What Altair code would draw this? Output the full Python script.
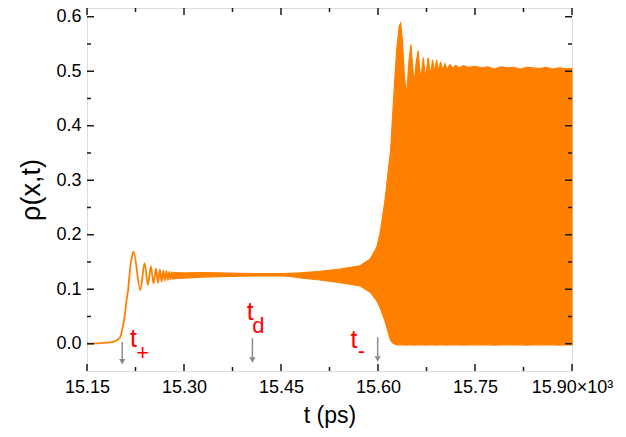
import altair as alt
import pandas as pd

ORANGE = "#FF8000"

# early, resolved part of the signal (t in 10^3 ps, rho)
line_t = [15.150, 15.170, 15.180, 15.188, 15.194, 15.198, 15.2014, 15.204, 15.2076,
          15.2118, 15.2135, 15.2169, 15.2195, 15.222, 15.2325, 15.239, 15.2442, 15.2488,
          15.2529, 15.2566, 15.2597, 15.2627, 15.2655, 15.2681, 15.2706, 15.2729, 15.2751,
          15.2771, 15.2791, 15.281, 15.2828]
line_v = [0.000, 0.001, 0.002, 0.003, 0.005, 0.008, 0.012, 0.024, 0.045,
          0.085, 0.098, 0.140, 0.160, 0.169, 0.098, 0.148, 0.108, 0.142,
          0.111, 0.138, 0.112, 0.136, 0.114, 0.134, 0.116, 0.133, 0.117,
          0.132, 0.118, 0.131, 0.119]

# dense oscillation: lower / upper envelope
band_t = [15.2828, 15.290, 15.302, 15.325, 15.356, 15.387, 15.418, 15.4534, 15.470, 15.4794,
          15.5103, 15.5412, 15.5721, 15.5876, 15.598, 15.603, 15.6107, 15.6158, 15.6195, 15.6235,
          15.6262, 15.6288, 15.6328, 15.635, 15.6375, 15.641, 15.644, 15.648, 15.651, 15.6535,
          15.656, 15.659, 15.662, 15.666, 15.670, 15.6736, 15.6776, 15.681, 15.6844, 15.6875,
          15.6906, 15.6937, 15.6967, 15.6998, 15.7033, 15.707, 15.711, 15.716, 15.720, 15.726,
          15.732, 15.740, 15.750, 15.760, 15.770, 15.780, 15.790, 15.800, 15.810, 15.820,
          15.830, 15.840, 15.850, 15.860, 15.870, 15.880, 15.890, 15.900]
band_lo = [0.1190, 0.1200, 0.1205, 0.1220, 0.1230, 0.1240, 0.1245, 0.1245, 0.1225, 0.1210,
           0.1170, 0.1120, 0.1060, 0.0950, 0.0790, 0.0670, 0.0420, 0.0210, 0.0060, 0.0010,
           -0.0010, -0.0020, -0.0020, -0.0020, -0.0015, -0.0020, -0.0025, -0.0020, -0.0015, -0.0020,
           -0.0025, -0.0020, -0.0020, -0.0015, -0.0020, -0.0025, -0.0020, -0.0020, -0.0015, -0.0020,
           -0.0025, -0.0020, -0.0020, -0.0015, -0.0020, -0.0025, -0.0020, -0.0020, -0.0015, -0.0020,
           -0.0025, -0.0020, -0.0020, -0.0015, -0.0020, -0.0025, -0.0020, -0.0020, -0.0015, -0.0020,
           -0.0025, -0.0020, -0.0020, -0.0015, -0.0020, -0.0025, -0.0020, -0.0020]
band_hi = [0.1310, 0.1305, 0.1300, 0.1305, 0.1300, 0.1290, 0.1285, 0.1285, 0.1295, 0.1300,
           0.1330, 0.1370, 0.1430, 0.1550, 0.1770, 0.2010, 0.2620, 0.3170, 0.3540, 0.4370,
           0.4900, 0.5380, 0.5830, 0.5880, 0.5600, 0.4900, 0.4550, 0.5200, 0.5490, 0.5100,
           0.4770, 0.5150, 0.5380, 0.4830, 0.5250, 0.4860, 0.5250, 0.4920, 0.5210, 0.4980,
           0.5210, 0.5000, 0.5170, 0.5020, 0.5140, 0.5030, 0.5120, 0.5050, 0.5110, 0.5060,
           0.5100, 0.5070, 0.5090, 0.5060, 0.5080, 0.5040, 0.5080, 0.5060, 0.5070, 0.5040,
           0.5070, 0.5060, 0.5050, 0.5070, 0.5040, 0.5060, 0.5050, 0.5050]

x_major = [15.15, 15.30, 15.45, 15.60, 15.75, 15.90]
x_minor = [15.225, 15.375, 15.525, 15.675, 15.825]
y_major = [0.0, 0.1, 0.2, 0.3, 0.4, 0.5, 0.6]
y_minor = [0.05, 0.15, 0.25, 0.35, 0.45, 0.55]

# annotations (data coordinates)
arrow_t = [15.2045, 15.4058, 15.5995]
arrow_top = [0.003, 0.010, 0.012]
arrow_tip = [-0.039, -0.036, -0.034]
main_t = [15.2217, 15.4024, 15.5628]
main_v = [-0.0064, 0.0432, -0.0083]
sub_t = [15.2362, 15.4152, 15.5744]
sub_v = [-0.0294, 0.0193, -0.0257]
sub_txt = ["+", "d", "-"]

W, H = 485, 363
FONT = "Liberation Sans"
INK = "#1a1a1a"

line_df = pd.DataFrame({"t": line_t, "v": line_v})
band_df = pd.DataFrame({"t": band_t, "lo": band_lo, "hi": band_hi})
xmaj_df = pd.DataFrame({"t": x_major})
xmin_df = pd.DataFrame({"t": x_minor})
ymaj_df = pd.DataFrame({"v": y_major})
ymin_df = pd.DataFrame({"v": y_minor})
arrow_df = pd.DataFrame({"t": arrow_t, "top": arrow_top, "tip": arrow_tip})
arrow_df["end"] = arrow_df["tip"] + 0.010
arrow_df["head"] = arrow_df["tip"] + 0.006
main_df = pd.DataFrame({"t": main_t, "v": main_v, "txt": ["t", "t", "t"]})
sub_df = pd.DataFrame({"t": sub_t, "v": sub_v, "txt": sub_txt})

xs = alt.Scale(domain=[15.15, 15.90], nice=False, zero=False)
ys = alt.Scale(domain=[-0.05, 0.616], nice=False, zero=False)

xaxis = alt.Axis(values=x_major, ticks=False, tickSize=0, domain=False, grid=False,
                 labelOverlap=False, labelBound=False, labelFlush=False,
                 labelExpr="datum.value > 15.89 ? '15.90×10³' : format(datum.value, '.2f')",
                 labelFont=FONT, labelFontSize=18, labelColor="black", labelPadding=7,
                 title="t (ps)", titleFont=FONT, titleFontSize=23, titleFontWeight="normal",
                 titleColor="black", titlePadding=8)
yaxis = alt.Axis(values=y_major, ticks=False, tickSize=0, domain=False, grid=False,
                 labelOverlap=False, labelBound=False, labelFlush=False,
                 format=".1f", labelFont=FONT, labelFontSize=18, labelColor="black",
                 labelPadding=6, title="ρ(x,t)", titleFont=FONT, titleFontSize=27,
                 titleFontWeight="normal", titleColor="black", titlePadding=10)

band = alt.Chart(band_df).mark_area(color=ORANGE, stroke=ORANGE, strokeWidth=1.2,
                                    interpolate="linear").encode(
    x=alt.X("t:Q", scale=xs, axis=xaxis),
    y=alt.Y("lo:Q", scale=ys, axis=yaxis),
    y2="hi:Q")

line = alt.Chart(line_df).mark_line(color=ORANGE, strokeWidth=1.8,
                                    interpolate="monotone").encode(
    x=alt.X("t:Q", scale=xs), y=alt.Y("v:Q", scale=ys))

def xticks(df, length):
    bot = alt.Chart(df).mark_rule(color=INK, strokeWidth=1.5).encode(
        x=alt.X("t:Q", scale=xs), y=alt.value(H), y2=alt.value(H - length))
    top = alt.Chart(df).mark_rule(color=INK, strokeWidth=1.5).encode(
        x=alt.X("t:Q", scale=xs), y=alt.value(0), y2=alt.value(length))
    return bot + top

def yticks(df, length):
    left = alt.Chart(df).mark_rule(color=INK, strokeWidth=1.5).encode(
        y=alt.Y("v:Q", scale=ys), x=alt.value(0), x2=alt.value(length))
    right = alt.Chart(df).mark_rule(color=INK, strokeWidth=1.5).encode(
        y=alt.Y("v:Q", scale=ys), x=alt.value(W), x2=alt.value(W - length))
    return left + right

arrows = alt.Chart(arrow_df).mark_rule(color="#8c8c8c", strokeWidth=1.5).encode(
    x=alt.X("t:Q", scale=xs), y=alt.Y("top:Q", scale=ys), y2="end:Q")
heads = alt.Chart(arrow_df).mark_point(shape="triangle-down", filled=True, color="#8c8c8c",
                                       size=40, opacity=1).encode(
    x=alt.X("t:Q", scale=xs), y=alt.Y("head:Q", scale=ys))

main_txt = alt.Chart(main_df).mark_text(color="#FF0000", font=FONT, fontSize=25,
                                        align="center", baseline="alphabetic").encode(
    x=alt.X("t:Q", scale=xs), y=alt.Y("v:Q", scale=ys), text="txt:N")
sub_text = alt.Chart(sub_df).mark_text(color="#FF0000", font=FONT, fontSize=22,
                                       align="center", baseline="alphabetic").encode(
    x=alt.X("t:Q", scale=xs), y=alt.Y("v:Q", scale=ys), text="txt:N")

chart = alt.layer(
    band, line,
    xticks(xmaj_df, 7), xticks(xmin_df, 4), yticks(ymaj_df, 7), yticks(ymin_df, 4),
    arrows, heads, main_txt, sub_text
).properties(
    width=W, height=H,
    autosize=alt.AutoSizeParams(type="none"),
    padding={"left": 79, "top": 0, "right": 46, "bottom": 58},
).configure_view(stroke=INK, strokeWidth=1.6).configure(font=FONT)

chart.save("out.html", embed_options={"renderer": "svg", "actions": False})
